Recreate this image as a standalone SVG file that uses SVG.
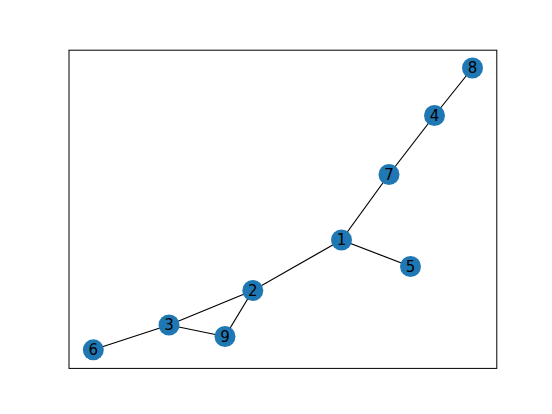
<svg xmlns="http://www.w3.org/2000/svg" width="552" height="414" viewBox="0 0 552 414">
<style>
.e{stroke:#000;stroke-width:1.2;fill:none}
.n circle{fill:#1f78b4}
.n text{font-family:"DejaVu Sans",sans-serif;font-size:15px;fill:#000;text-anchor:middle;dominant-baseline:central}
</style>
<rect width="552" height="414" fill="#fff"/>
<rect x="69" y="50.2" width="427.8" height="318.2" fill="none" stroke="#000" stroke-width="1"/>
<g id="edges">
<line class="e" x1="472.5" y1="68" x2="434.5" y2="115.5"/>
<line class="e" x1="434.5" y1="115.5" x2="389" y2="174.5"/>
<line class="e" x1="389" y1="174.5" x2="341.5" y2="240"/>
<line class="e" x1="341.5" y1="240" x2="410.5" y2="266.5"/>
<line class="e" x1="341.5" y1="240" x2="252.8" y2="290.5"/>
<line class="e" x1="252.8" y1="290.5" x2="169" y2="325"/>
<line class="e" x1="252.8" y1="290.5" x2="225" y2="336.5"/>
<line class="e" x1="169" y1="325" x2="225" y2="336.5"/>
<line class="e" x1="169" y1="325" x2="93.3" y2="349.8"/>
</g>
<g id="n1" class="n"><circle cx="341.5" cy="240" r="10.5"/><text x="341.5" y="240">1</text></g>
<g id="n2" class="n"><circle cx="252.8" cy="290.5" r="10.5"/><text x="252.8" y="290.5">2</text></g>
<g id="n3" class="n"><circle cx="169" cy="325" r="10.5"/><text x="169" y="325">3</text></g>
<g id="n4" class="n"><circle cx="434.5" cy="115.5" r="10.5"/><text x="434.5" y="115.5">4</text></g>
<g id="n5" class="n"><circle cx="410.5" cy="266.5" r="10.5"/><text x="410.5" y="266.5">5</text></g>
<g id="n6" class="n"><circle cx="93.3" cy="349.8" r="10.5"/><text x="93.3" y="349.8">6</text></g>
<g id="n7" class="n"><circle cx="389" cy="174.5" r="10.5"/><text x="389" y="174.5">7</text></g>
<g id="n8" class="n"><circle cx="472.5" cy="68" r="10.5"/><text x="472.5" y="68">8</text></g>
<g id="n9" class="n"><circle cx="225" cy="336.5" r="10.5"/><text x="225" y="336.5">9</text></g>
</svg>
